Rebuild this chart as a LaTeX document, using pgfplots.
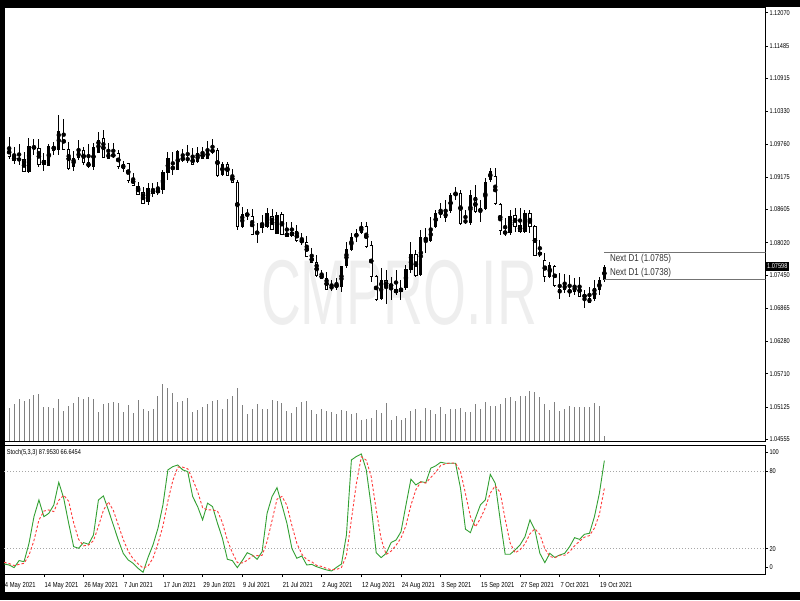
\documentclass[border=0pt]{standalone}
\usepackage{pgfplots}
\usepackage{pgfplotstable}
\pgfplotsset{compat=1.18}
\usepackage{fontspec}
\setmainfont{Liberation Sans}[FakeStretch=0.8]
\newfontfamily\wmfont{Liberation Sans}[FakeStretch=0.6]
\definecolor{stochK}{RGB}{50,160,50}
\definecolor{stochD}{RGB}{255,60,60}
\definecolor{volgray}{RGB}{128,128,128}
\definecolor{wm}{RGB}{238,238,238}

% bullish candles (black bodies)
\pgfplotstableread{
x o h l c
3 1.09470 1.09757 1.09387 1.09505
5 1.09258 1.09857 1.09241 1.09722
8 1.09387 1.09593 1.09288 1.09476
9 1.09376 1.09757 1.09376 1.09728
11 1.09652 1.10268 1.09563 1.09986
14 1.09358 1.09640 1.09288 1.09511
15 1.09505 1.09828 1.09476 1.09634
18 1.09358 1.09769 1.09299 1.09710
19 1.09605 1.09963 1.09593 1.09828
21 1.09493 1.09781 1.09493 1.09605
24 1.09317 1.09464 1.09270 1.09399
29 1.08742 1.09076 1.08683 1.08976
31 1.08888 1.09094 1.08859 1.08959
32 1.08947 1.09299 1.08877 1.09270
33 1.09252 1.09622 1.09123 1.09505
35 1.09299 1.09652 1.09299 1.09634
37 1.09476 1.09740 1.09417 1.09505
39 1.09446 1.09698 1.09417 1.09593
41 1.09493 1.09810 1.09487 1.09652
44 1.09211 1.09446 1.09194 1.09405
48 1.08290 1.08654 1.08272 1.08525
51 1.08184 1.08360 1.08020 1.08213
52 1.08284 1.08507 1.08184 1.08372
53 1.08301 1.08636 1.08272 1.08536
55 1.08172 1.08565 1.08172 1.08507
58 1.08137 1.08389 1.08113 1.08213
66 1.07198 1.07362 1.07168 1.07262
68 1.07245 1.07609 1.07158 1.07609
69 1.07609 1.08037 1.07568 1.07908
70 1.07890 1.08184 1.07873 1.08113
71 1.08113 1.08254 1.08037 1.08196
72 1.08196 1.08389 1.08172 1.08301
76 1.07022 1.07568 1.07010 1.07362
80 1.07158 1.07362 1.07010 1.07227
81 1.07215 1.07626 1.07186 1.07550
82 1.07538 1.08037 1.07480 1.07814
84 1.07450 1.08242 1.07438 1.08113
86 1.08054 1.08477 1.08025 1.08272
87 1.08301 1.08594 1.08272 1.08547
89 1.08448 1.08771 1.08389 1.08565
90 1.08577 1.08900 1.08536 1.08859
93 1.08371 1.08594 1.08348 1.08418
94 1.08360 1.08947 1.08330 1.08859
96 1.08565 1.08771 1.08389 1.08624
97 1.08612 1.09152 1.08594 1.09082
98 1.09123 1.09328 1.09093 1.09281
102 1.08184 1.08594 1.08154 1.08495
105 1.08213 1.08594 1.08195 1.08536
108 1.07802 1.08066 1.07773 1.07849
110 1.07420 1.07685 1.07391 1.07626
112 1.07127 1.07491 1.07021 1.07197
113 1.07186 1.07467 1.07127 1.07291
115 1.07156 1.07391 1.07098 1.07256
118 1.06963 1.07244 1.06951 1.07039
119 1.07021 1.07362 1.06998 1.07215
120 1.07186 1.07420 1.07098 1.07362
121 1.07362 1.07626 1.07333 1.07598
}\bull

% bearish candles (white bodies)
\pgfplotstableread{
x o h l c
1 1.09693 1.09875 1.09487 1.09534
2 1.09534 1.09710 1.09405 1.09464
4 1.09487 1.09610 1.09270 1.09275
6 1.09716 1.09839 1.09563 1.09675
7 1.09681 1.09839 1.09358 1.09399
10 1.09722 1.09798 1.09563 1.09652
12 1.09945 1.10192 1.09652 1.09663
13 1.09663 1.09787 1.09299 1.09329
16 1.09652 1.09710 1.09387 1.09428
17 1.09428 1.09757 1.09329 1.09358
20 1.09857 1.10004 1.09505 1.09522
22 1.09581 1.09769 1.09505 1.09534
23 1.09593 1.09652 1.09311 1.09358
25 1.09417 1.09428 1.09076 1.09123
26 1.09153 1.09252 1.09017 1.09035
27 1.09017 1.09094 1.08859 1.08877
28 1.08900 1.09006 1.08701 1.08712
30 1.08959 1.09065 1.08830 1.08888
34 1.09358 1.09622 1.09211 1.09311
36 1.09505 1.09669 1.09446 1.09487
38 1.09516 1.09681 1.09387 1.09405
40 1.09605 1.09710 1.09487 1.09505
42 1.09652 1.09839 1.09575 1.09622
43 1.09652 1.09693 1.09182 1.09199
45 1.09405 1.09446 1.09194 1.09205
46 1.09211 1.09311 1.09065 1.09076
47 1.09076 1.09123 1.08243 1.08313
49 1.08536 1.08607 1.08419 1.08495
50 1.08489 1.08606 1.08155 1.08172
54 1.08489 1.08606 1.08243 1.08248
56 1.08518 1.08565 1.08155 1.08172
57 1.08184 1.08389 1.08113 1.08137
59 1.08213 1.08331 1.08037 1.08055
60 1.08067 1.08184 1.07978 1.08025
61 1.08025 1.08137 1.07761 1.07773
62 1.07773 1.07920 1.07656 1.07673
63 1.07673 1.07802 1.07421 1.07438
64 1.07450 1.07538 1.07380 1.07391
65 1.07391 1.07509 1.07186 1.07198
67 1.07274 1.07391 1.07186 1.07245
73 1.08301 1.08389 1.07931 1.07949
74 1.07978 1.08049 1.07333 1.07421
75 1.07421 1.07450 1.06998 1.07022
77 1.07350 1.07538 1.06939 1.07245
78 1.07274 1.07421 1.07010 1.07256
79 1.07186 1.07538 1.07098 1.07145
83 1.07814 1.07890 1.07420 1.07450
85 1.08113 1.08272 1.07831 1.08054
88 1.08559 1.08712 1.08448 1.08536
91 1.08888 1.08994 1.08771 1.08859
92 1.08888 1.08947 1.08330 1.08360
95 1.08812 1.09035 1.08536 1.08577
99 1.09181 1.09328 1.08682 1.08712
100 1.08694 1.08712 1.08154 1.08242
101 1.08213 1.08448 1.08137 1.08184
103 1.08506 1.08624 1.08213 1.08313
104 1.08330 1.08624 1.08195 1.08213
106 1.08536 1.08594 1.08184 1.08301
107 1.08313 1.08330 1.07784 1.07802
109 1.07714 1.07831 1.07332 1.07420
111 1.07597 1.07626 1.07244 1.07274
114 1.07186 1.07450 1.07068 1.07139
116 1.07274 1.07420 1.07068 1.07080
117 1.07103 1.07186 1.06863 1.07057
}\bear

% tick volume (display units)
\pgfplotstableread{
x v
1 33
2 37
3 42
4 40
5 42
6 46
7 47
8 34
9 34
10 33
11 42
12 30
13 35
14 38
15 44
16 42
17 44
18 42
19 29
20 37
21 38
22 39
23 38
24 29
25 36
26 28
27 41
28 32
29 30
30 32
31 45
32 57
33 53
34 48
35 39
36 40
37 43
38 29
39 31
40 34
41 37
42 40
43 41
44 32
45 42
46 45
47 53
48 36
49 27
50 32
51 37
52 32
53 32
54 41
55 40
56 38
57 30
58 28
59 34
60 39
61 40
62 31
63 27
64 32
65 30
66 29
67 27
68 31
69 30
70 27
71 28
72 21
73 22
74 23
75 31
76 28
77 38
78 21
79 25
80 21
81 23
82 30
83 32
84 21
85 33
86 31
87 27
88 34
89 27
90 32
91 32
92 33
93 29
94 29
95 37
96 32
97 39
98 35
99 35
100 37
101 43
102 44
103 40
104 45
105 45
106 50
107 49
108 44
109 37
110 31
111 39
112 30
113 32
114 35
115 34
116 34
117 34
118 34
119 38
120 35
121 5
}\vol

% stochastic (5,3,3): k = main, d = signal
\pgfplotstableread{
x k d
0 8.2 9.5
1 7.4 8.5
2 5.4 7.0
3 10.8 7.9
4 10.0 8.7
5 24.1 15.0
6 44.7 26.3
7 57.6 42.1
8 44.7 49.0
9 47.3 49.9
10 53.7 48.6
11 71.2 57.4
12 58.9 61.3
13 39.6 56.6
14 21.6 40.0
15 20.3 27.2
16 24.7 22.2
17 23.4 22.8
18 30.6 26.2
19 57.6 37.2
20 60.7 49.6
21 49.9 56.1
22 38.3 49.6
23 26.7 38.3
24 16.4 27.1
25 11.3 18.1
26 8.7 12.1
27 4.8 8.3
28 1.8 5.1
29 13.3 6.6
30 22.9 12.7
31 35.7 24.0
32 53.7 37.4
33 80.8 56.7
34 83.3 72.6
35 84.6 82.9
36 80.8 82.9
37 79.5 81.6
38 60.2 73.5
39 52.5 64.1
40 42.2 51.6
41 55.1 49.9
42 52.5 49.9
43 39.6 49.1
44 28.0 40.0
45 11.8 26.5
46 10.8 16.9
47 5.4 9.3
48 10.8 9.0
49 16.9 11.0
50 15.1 14.3
51 11.8 14.6
52 17.7 14.9
53 47.3 25.6
54 60.2 41.7
55 67.1 58.2
56 53.7 60.3
57 39.6 53.5
58 20.3 37.9
59 12.6 24.2
60 14.4 15.8
61 7.4 11.5
62 7.9 9.9
63 6.1 7.1
64 4.8 6.3
65 3.6 4.8
66 2.8 3.7
67 5.6 4.0
68 8.2 5.5
69 30.6 14.8
70 88.5 42.4
71 91.1 70.1
72 93.1 90.9
73 80.8 88.3
74 52.5 75.5
75 16.9 50.1
76 13.1 27.5
77 16.4 15.5
78 24.7 18.1
79 26.7 22.6
80 33.1 28.2
81 53.7 37.8
82 73.6 53.5
83 69.2 65.5
84 71.7 71.5
85 71.0 70.6
86 82.1 74.9
87 83.9 79.0
88 86.7 84.2
89 85.9 85.5
90 85.9 86.2
91 85.9 85.9
92 66.6 79.5
93 35.0 62.5
94 32.4 44.7
95 43.4 36.9
96 53.7 43.2
97 57.6 51.6
98 77.4 62.9
99 70.5 68.5
100 42.2 63.4
101 15.7 42.8
102 15.7 24.5
103 19.0 16.8
104 22.9 19.2
105 29.3 23.7
106 42.2 31.5
107 34.4 35.3
108 16.4 31.0
109 9.2 20.0
110 16.4 14.0
111 13.3 13.0
112 15.1 14.9
113 16.4 14.9
114 21.6 17.7
115 28.5 22.2
116 27.2 25.8
117 31.1 28.9
118 31.9 30.1
119 44.7 35.9
120 62.8 46.5
121 87.953 66.6454
}\stoch

\begin{document}
\begin{tikzpicture}[x=1pt,y=1pt]
\useasboundingbox (0,0) rectangle (800,600);
\fill[black] (0,0) rectangle (800,600);
\fill[white] (5,8.3) rectangle (800,592.7);
\node[text=wm, font=\wmfont\fontsize{92}{92}\selectfont, inner sep=0pt] at (399,307) {CMPRO.IR};

% volume overlay
\begin{axis}[
  at={(4.2pt,158.7pt)}, anchor=south west,
  scale only axis, width=761.3pt, height=434pt,
  xmin=0, xmax=153.49, ymin=0, ymax=434,
  hide axis]
\addplot[ycomb, volgray, line width=1pt, mark=none] table[x=x,y=v] {\vol};
\end{axis}

% main price panel
\begin{axis}[
  at={(4.2pt,158.7pt)}, anchor=south west,
  scale only axis, width=761.3pt, height=434pt,
  xmin=0, xmax=153.49, ymin=1.045197, ymax=1.121651,
  axis line style={black, line width=0.8pt},
  xtick=\empty,
  ytick={1.04555,1.05125,1.05710,1.06280,1.06865,1.07450,1.08020,1.08605,1.09175,1.09760,1.10330,1.10915,1.11485,1.12070},
  yticklabels={1.04555,1.05125,1.05710,1.06280,1.06865,1.07450,1.08020,1.08605,1.09175,1.09760,1.10330,1.10915,1.11485,1.12070},
  ytick pos=right, yticklabel pos=right,
  tick align=outside, major tick length=2.5pt,
  tick style={black, line width=0.6pt},
  yticklabel style={font=\fontsize{7}{8}\selectfont, anchor=west, inner sep=0pt, xshift=1.3pt},
  /pgf/number format/assume math mode=true,
]
% wicks
\addplot[only marks, mark=none, error bars/y dir=both, error bars/y explicit,
  error bars/error mark=none, error bars/error bar style={draw=black, line width=1pt}]
  table[x=x, y expr={(\thisrow{h}+\thisrow{l})/2}, y error expr={(\thisrow{h}-\thisrow{l})/2}] {\bull};
\addplot[only marks, mark=none, error bars/y dir=both, error bars/y explicit,
  error bars/error mark=none, error bars/error bar style={draw=black, line width=1pt}]
  table[x=x, y expr={(\thisrow{h}+\thisrow{l})/2}, y error expr={(\thisrow{h}-\thisrow{l})/2}] {\bear};
% bodies
\addplot[only marks, mark=none, error bars/y dir=both, error bars/y explicit,
  error bars/error mark=none, error bars/error bar style={draw=black, line width=3.3pt}]
  table[x=x, y expr={(\thisrow{o}+\thisrow{c})/2}, y error expr={abs(\thisrow{o}-\thisrow{c})/2}] {\bull};
\addplot[only marks, mark=none, error bars/y dir=both, error bars/y explicit,
  error bars/error mark=none, error bars/error bar style={draw=black, line width=3.3pt}]
  table[x=x, y expr={(\thisrow{o}+\thisrow{c})/2}, y error expr={abs(\thisrow{o}-\thisrow{c})/2}] {\bear};
\addplot[only marks, mark=none, error bars/y dir=both, error bars/y explicit,
  error bars/error mark=-, error bars/error bar style={draw=white, line width=1.6pt},
  error bars/error mark options={draw=black, line width=0.9pt, mark size=1.65pt, rotate=90}]
  table[x=x, y expr={(\thisrow{o}+\thisrow{c})/2}, y error expr={abs(\thisrow{o}-\thisrow{c})/2}] {\bear};
% next D1 levels
\addplot[black!55, line width=0.8pt] coordinates {(121,1.0785) (153.49,1.0785)};
\addplot[black!55, line width=0.8pt] coordinates {(121,1.0737) (153.49,1.0737)};
\node[anchor=west, inner sep=0pt, text=black!80, font=\fontsize{10}{11}\selectfont] at (axis cs:122.1,1.07726) {Next D1 (1.0785)};
\node[anchor=west, inner sep=0pt, text=black!80, font=\fontsize{10}{11}\selectfont] at (axis cs:122.1,1.07490) {Next D1 (1.0738)};
\coordinate (cp) at (axis cs:153.49,1.07598);
\end{axis}
\node[anchor=west, fill=black, text=white, inner xsep=1.5pt, inner ysep=2pt, font=\fontsize{7}{8}\selectfont] at (cp) {1.07598};

% stochastic panel
\begin{axis}[
  at={(4.2pt,25.4pt)}, anchor=south west,
  scale only axis, width=761.3pt, height=129.6pt,
  xmin=0, xmax=153.49, ymin=0, ymax=100,
  axis line style={black, line width=0.8pt},
  xtick={0,8,...,120},
  xticklabels={4 May 2021,14 May 2021,26 May 2021,7 Jun 2021,17 Jun 2021,29 Jun 2021,9 Jul 2021,21 Jul 2021,2 Aug 2021,12 Aug 2021,24 Aug 2021,3 Sep 2021,15 Sep 2021,27 Sep 2021,7 Oct 2021,19 Oct 2021},
  xtick pos=bottom,
  ytick={5.6,20,80,94.7}, yticklabels={0,20,80,100},
  ytick pos=right, yticklabel pos=right,
  tick align=outside, major tick length=2.5pt,
  tick style={black, line width=0.6pt},
  xticklabel style={font=\fontsize{7.3}{8}\selectfont, anchor=north west, inner sep=0pt, text height=5.5pt, text depth=1.5pt, xshift=0.6pt, yshift=-4.8pt},
  yticklabel style={font=\fontsize{7}{8}\selectfont, anchor=west, inner sep=0pt, xshift=1.3pt},
  /pgf/number format/assume math mode=true,
]
\addplot[black!35, line width=0.8pt, dash pattern=on 1pt off 2pt] coordinates {(0,20) (153.49,20)};
\addplot[black!35, line width=0.8pt, dash pattern=on 1pt off 2pt] coordinates {(0,80) (153.49,80)};
\addplot[stochK, line width=0.9pt, mark=none] table[x=x,y=k] {\stoch};
\addplot[stochD, line width=0.9pt, mark=none, dash pattern=on 2.5pt off 2pt] table[x=x,y=d] {\stoch};
\node[anchor=west, inner sep=0pt, font=\fontsize{7}{8}\selectfont] at (axis cs:0.5,93.8) {Stoch(5,3,3) 87.9530 66.6454};
\end{axis}
\end{tikzpicture}
\end{document}
